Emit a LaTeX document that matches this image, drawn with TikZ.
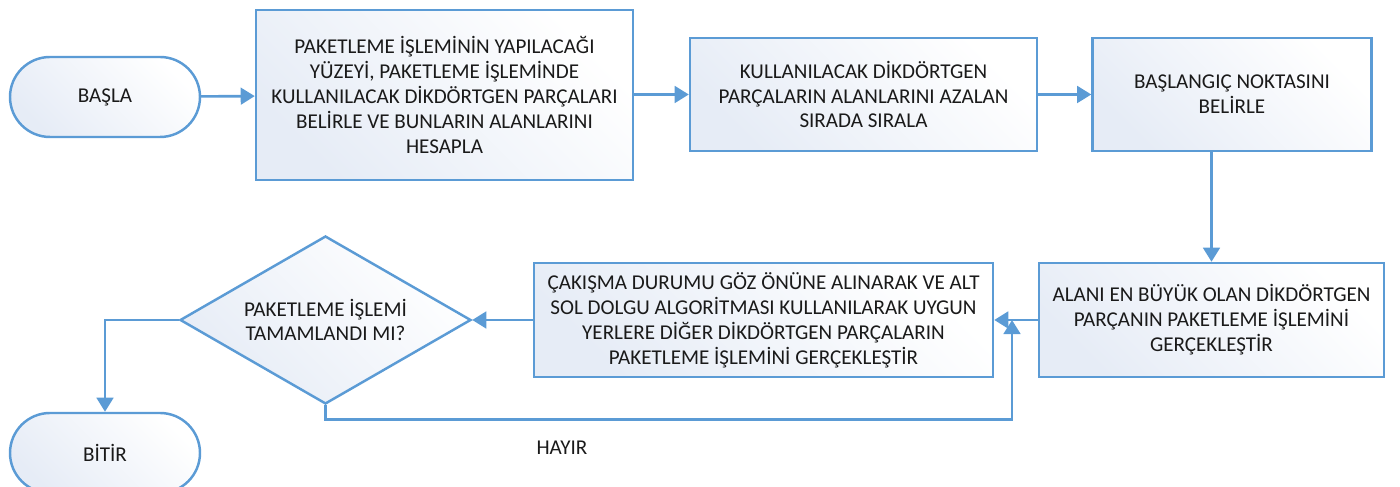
\documentclass[tikz,border=0pt]{standalone}
\usepackage{fontspec}
\setmainfont{Carlito}
\usepackage{tikz}
\usetikzlibrary{arrows.meta, shapes.geometric, calc}
\usepackage{xcolor}
\definecolor{Blue}  {HTML}{5B9BD5}
\definecolor{BlueF} {HTML}{E6ECF6}
\definecolor{Ink}   {HTML}{1A1A1A}
\tikzset{
  blk/.style args={#1/#2}{
    rectangle, draw=Blue, left color=BlueF, right color=white,
    shading angle=135,
    text=Ink, font=\fontsize{12}{14.2}\selectfont, align=center,
    inner sep=3pt, minimum width=#1, minimum height=#2,
    line width=1.4pt,
  },
  term/.style={
    rectangle, rounded corners=0.8cm,
    draw=Blue, left color=BlueF, right color=white, shading angle=135,
    text=Ink, font=\fontsize{12}{14.2}\selectfont,
    minimum width=3.8cm, minimum height=1.6cm,
    line width=1.4pt,
  },
  dec/.style={
    diamond, aspect=1.73, draw=Blue, left color=BlueF, right color=white,
    shading angle=135,
    text=Ink, font=\fontsize{12}{14.2}\selectfont, align=center,
    inner sep=0pt, minimum width=5.82cm, minimum height=3.36cm,
    line width=1.4pt,
  },
  arr/.style={
    -{Triangle[length=8pt,width=9.5pt]},
    line width=1.5pt, color=Blue,
  },
  lbl/.style={
    text=Ink, font=\fontsize{12}{14.2}\selectfont, inner sep=1pt,
  },
}
\begin{document}
\begin{tikzpicture}[x=1cm,y=1cm]
  \useasboundingbox (0,0) rectangle (28,9.74);
  % top row
  \node[term] (bas) at (2.10,7.80) {BAŞLA};
  \node[blk={7.54cm}/{3.4cm}] (yuz) at (8.89,7.84)
    {PAKETLEME İŞLEMİNİN YAPILACAĞI\\YÜZEYİ, PAKETLEME İŞLEMİNDE\\KULLANILACAK DİKDÖRTGEN PARÇALARI\\BELİRLE VE BUNLARIN ALANLARINI\\HESAPLA};
  \node[blk={6.94cm}/{2.26cm}] (sir) at (17.27,7.85)
    {KULLANILACAK DİKDÖRTGEN\\PARÇALARIN ALANLARINI AZALAN\\SIRADA SIRALA};
  \node[blk={5.58cm}/{2.26cm}] (bsl) at (24.64,7.85)
    {BAŞLANGIÇ NOKTASINI\\BELİRLE};
  % bottom row
  \node[blk={6.9cm}/{2.28cm}] (byk) at (24.23,3.34)
    {ALANI EN BÜYÜK OLAN DİKDÖRTGEN\\PARÇANIN PAKETLEME İŞLEMİNİ\\GERÇEKLEŞTİR};
  \node[blk={9.18cm}/{2.28cm}] (alt) at (15.27,3.34)
    {ÇAKIŞMA DURUMU GÖZ ÖNÜNE ALINARAK VE ALT\\SOL DOLGU ALGORİTMASI KULLANILARAK UYGUN\\YERLERE DİĞER DİKDÖRTGEN PARÇALARIN\\PAKETLEME İŞLEMİNİ GERÇEKLEŞTİR};
  \node[dec] (tam) at (6.51,3.34) {PAKETLEME İŞLEMİ\\TAMAMLANDI MI?};
  \node[term] (bit) at (2.10,0.68) {BİTİR};
  \node[lbl] (hyr) at (11.24,0.78) {HAYIR};
  \coordinate (jn) at (20.24,3.34);
  % connectors
  \draw[arr] (bas) -- (yuz);
  \draw[arr] (yuz.east |- sir) -- (sir);
  \draw[arr] (sir) -- (bsl);
  \draw[arr] (byk.north |- bsl.south) -- (byk.north);
  \draw[arr] (byk) -- (alt);
  \draw[arr] (alt) -- (tam);
  \draw[arr] (tam.west) -| (bit.north);
  \draw[arr] (tam.south) -- ++(0,-0.28) -| (jn);
\end{tikzpicture}
\end{document}
